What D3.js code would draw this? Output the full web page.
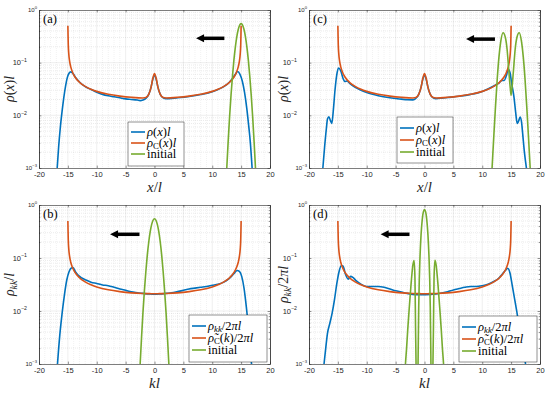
<!DOCTYPE html>
<html>
<head>
<meta charset="utf-8">
<script src="https://cdn.jsdelivr.net/npm/d3@7"></script>
<style>
body { margin: 0; background: #fff; }
svg { display: block; }
.serif, .serif tspan { font-family: "Liberation Serif", "DejaVu Serif", "Times New Roman", serif; }
</style>
</head>
<body>
<svg id="fig" width="550" height="395"></svg>
<script>
// axis ticks
const xTicks = [-20, -15, -10, -5, 0, 5, 10, 15, 20];
const xTickLabels = ['-20', '-15', '-10', '-5', '0', '5', '10', '15', '20'];
const yTicks = [1e-3, 1e-2, 1e-1, 1];
const yTickExp = ['-3', '-2', '-1', '0'];

// rho_C (orange), with the central peak for x-space and flat for k-space
const rhoCx = [-15, -14.97, -14.93, -14.85, -14.7, -14.5, -14.2, -13.8, -13, -12, -11, -10, -8, -6, -4, -2,
  -1.5, -1, -0.6, -0.3, 0, 0.3, 0.6, 1, 1.5,
  2, 4, 6, 8, 10, 11, 12, 13, 13.8, 14.2, 14.5, 14.7, 14.85, 14.93, 14.97, 15];
const rhoCpeak = [0.5, 0.335, 0.22, 0.15, 0.107, 0.083, 0.066, 0.054, 0.0425, 0.0354, 0.0312, 0.0285, 0.0251, 0.0232, 0.022, 0.0214,
  0.0218, 0.025, 0.034, 0.05, 0.062, 0.05, 0.034, 0.025, 0.0218,
  0.0214, 0.022, 0.0232, 0.0251, 0.0285, 0.0312, 0.0354, 0.0425, 0.054, 0.066, 0.083, 0.107, 0.15, 0.22, 0.335, 0.5];
const rhoCflat = [0.5, 0.335, 0.22, 0.15, 0.107, 0.083, 0.066, 0.054, 0.0425, 0.0354, 0.0312, 0.0285, 0.0251, 0.0232, 0.022, 0.0214,
  0.0213, 0.0213, 0.0212, 0.0212, 0.0212, 0.0212, 0.0212, 0.0213, 0.0213,
  0.0214, 0.022, 0.0232, 0.0251, 0.0285, 0.0312, 0.0354, 0.0425, 0.054, 0.066, 0.083, 0.107, 0.15, 0.22, 0.335, 0.5];

// panel (a)
const blueAx = [-16.85, -16.6, -16.3, -16, -15.7, -15.4, -15.1, -14.8, -14.5,
  -14.1, -13.6, -13, -12, -11, -10, -9, -8, -7, -6, -5, -4, -3, -2.5, -2, -1.5, -1, -0.6, -0.3,
  0,
  0.3, 0.6, 1, 1.5, 2, 3, 4, 6, 8, 10, 11, 12, 13, 13.6, 14, 14.4, 14.8, 15.2, 15.6, 16, 16.3, 16.6, 16.9];
const blueAy = [0.001, 0.0025, 0.006, 0.012, 0.022, 0.036, 0.052, 0.063, 0.067,
  0.062, 0.051, 0.043, 0.035, 0.031, 0.0275, 0.025, 0.0235, 0.0225, 0.0215, 0.0205, 0.02, 0.0195, 0.019, 0.0195, 0.021, 0.025, 0.034, 0.048,
  0.058,
  0.048, 0.034, 0.025, 0.0215, 0.0208, 0.021, 0.0215, 0.0228, 0.0248, 0.028, 0.031, 0.035, 0.043, 0.052, 0.06, 0.068, 0.06, 0.045, 0.027, 0.013, 0.0065, 0.003, 0.001];
const greenAx = [12.25, 12.5, 12.75, 13, 13.25, 13.5, 13.75, 14, 14.25, 14.5, 14.75, 15,
  15.25, 15.5, 15.75, 16, 16.25, 16.5, 16.75, 17, 17.25, 17.5, 17.75];
const greenAy = [0.00025, 0.00093, 0.0031, 0.0093, 0.024, 0.055, 0.112, 0.198, 0.31, 0.426, 0.516, 0.55,
  0.516, 0.426, 0.31, 0.198, 0.112, 0.055, 0.024, 0.0093, 0.0031, 0.00093, 0.00025];

// panel (c)
const blueCx = [-17.6, -17.3, -17, -16.8, -16.55, -16.3, -16.05, -15.8, -15.5, -15.2,
  -14.9, -14.5, -14.1, -13.8, -13.4, -13, -12, -11, -10, -8,
  -6, -4, -3, -2, -1.5, -1, -0.6, -0.3, 0, 0.3,
  0.6, 1, 1.5, 2, 3, 4, 6, 8, 10, 12,
  13, 13.4, 13.8, 14.2, 14.5, 14.8, 15.1, 15.5, 15.8, 16.05,
  16.3, 16.55, 16.8, 17, 17.3, 17.65];
const blueCy = [0.001, 0.0025, 0.0055, 0.0085, 0.0094, 0.008, 0.007, 0.012, 0.03, 0.058,
  0.079, 0.07, 0.05, 0.044, 0.045, 0.041, 0.034, 0.03, 0.027, 0.0235,
  0.0215, 0.0203, 0.0198, 0.0197, 0.021, 0.025, 0.034, 0.048, 0.058, 0.048,
  0.034, 0.025, 0.0215, 0.0208, 0.0212, 0.0218, 0.023, 0.025, 0.0285, 0.036,
  0.042, 0.046, 0.046, 0.058, 0.075, 0.065, 0.04, 0.022, 0.011, 0.007,
  0.0078, 0.0093, 0.0075, 0.0045, 0.002, 0.001];
const greenCx = [11.5, 11.7, 12, 12.3, 12.6, 12.9, 13.2, 13.6, 14, 14.3,
  14.6, 14.85, 15, 15.15, 15.4, 15.7, 16, 16.4, 16.8, 17.1,
  17.4, 17.7, 18, 18.3, 18.5];
const greenCy = [0.0004, 0.001, 0.004, 0.015, 0.05, 0.13, 0.25, 0.37, 0.3, 0.18,
  0.07, 0.033, 0.024, 0.033, 0.07, 0.18, 0.3, 0.37, 0.25, 0.13,
  0.05, 0.015, 0.004, 0.001, 0.0004];

// panel (b)
const blueBx = [-16.8, -16.4, -16, -15.6, -15.2, -14.8, -14.4, -14.1, -13.7, -13.2,
  -12.6, -12, -11, -10, -9, -8, -7, -6, -5, -4,
  -3, -2, -1, 0, 1, 2, 3, 4, 5, 6,
  7, 8, 9, 10, 11, 12, 12.8, 13.4, 13.9, 14.3,
  14.7, 15.1, 15.5, 15.9, 16.3, 16.8];
const blueBy = [0.001, 0.0035, 0.009, 0.02, 0.038, 0.055, 0.065, 0.066, 0.055, 0.047,
  0.042, 0.039, 0.035, 0.033, 0.031, 0.030, 0.028, 0.026, 0.0245, 0.023,
  0.022, 0.0215, 0.021, 0.0207, 0.021, 0.0215, 0.022, 0.0232, 0.0245, 0.026,
  0.027, 0.028, 0.029, 0.0305, 0.032, 0.035, 0.04, 0.046, 0.053, 0.058,
  0.056, 0.045, 0.027, 0.012, 0.0045, 0.001];
const greenBx = [-2.75, -2.5, -2.25, -2, -1.75, -1.5, -1.25, -1, -0.75, -0.5, -0.25, 0,
  0.25, 0.5, 0.75, 1, 1.25, 1.5, 1.75, 2, 2.25, 2.5, 2.75];
const greenBy = [0.00025, 0.00093, 0.0031, 0.0093, 0.024, 0.055, 0.112, 0.198, 0.31, 0.426, 0.516, 0.55,
  0.516, 0.426, 0.31, 0.198, 0.112, 0.055, 0.024, 0.0093, 0.0031, 0.00093, 0.00025];

// panel (d)
const blueDx = [-17.4, -17.1, -16.8, -16.4, -16.0, -15.6, -15.2, -14.8, -14.4, -14.1,
  -13.7, -13.2, -12.8, -12.4, -11.8, -11, -10, -9, -8, -7,
  -6, -5, -4, -3, -2, -1, 0, 1, 2, 3,
  4, 5, 6, 7, 8, 9, 10, 11, 12, 12.8,
  13.5, 14, 14.4, 14.8, 15.2, 15.6, 16, 16.3, 16.6, 17,
  17.5];
const blueDy = [0.001, 0.002, 0.0038, 0.0058, 0.009, 0.016, 0.032, 0.055, 0.072, 0.07,
  0.05, 0.04, 0.045, 0.043, 0.037, 0.032, 0.029, 0.029, 0.029, 0.028,
  0.026, 0.024, 0.0228, 0.0215, 0.0205, 0.0202, 0.0203, 0.0205, 0.021, 0.0218,
  0.023, 0.025, 0.0265, 0.028, 0.029, 0.029, 0.030, 0.032, 0.036, 0.041,
  0.05, 0.058, 0.064, 0.052, 0.03, 0.017, 0.0095, 0.006, 0.0042, 0.0022,
  0.001];
const greenDx = [-3.5, -3.3, -3.1, -2.9, -2.6, -2.3, -2.0, -1.8, -1.65, -1.55,
  -1.45, -1.3, -1.2, -1.1, -1.0, -0.9, -0.8, -0.6, -0.4, -0.2,
  0,
  0.2, 0.4, 0.6, 0.8, 0.9, 1.0, 1.1, 1.2, 1.3, 1.45,
  1.55, 1.65, 1.8, 2.0, 2.3, 2.6, 2.9, 3.1, 3.3, 3.5];
const greenDy = [0.0004, 0.001, 0.002, 0.0045, 0.013, 0.035, 0.075, 0.09, 0.04, 0.005,
  0.0008, 0.0002, 0.0002, 0.0015, 0.012, 0.04, 0.09, 0.27, 0.52, 0.74,
  0.82,
  0.74, 0.52, 0.27, 0.09, 0.04, 0.012, 0.0015, 0.0002, 0.0002, 0.0008,
  0.005, 0.04, 0.09, 0.075, 0.035, 0.013, 0.0045, 0.002, 0.001, 0.0004];

const colors = { blue: '#0072BD', orange: '#D95319', green: '#77AC30' };
const axisColor = '#262626';
const sans = 'Liberation Sans';

// legend / label texts: [text, style]
const legX = [
  [['ρ', 'i'], ['(', 'r'], ['x', 'i'], [')', 'r'], ['l', 'i']],
  [['ρ', 'i'], ['C', 'subr'], ['(', 'r'], ['x', 'i'], [')', 'r'], ['l', 'i']],
  [['initial', 'r']]
];
const legK = [
  [['ρ', 'i'], ['kk', 'subi'], ['/2', 'r'], ['π', 'i'], ['l', 'i']],
  [['ρ\u0303', 'i'], ['C', 'subr'], ['(', 'r'], ['k', 'i'], [')/2', 'r'], ['π', 'i'], ['l', 'i']],
  [['initial', 'r']]
];

const panels = [
  { tag: '(a)', left: 39, top: 10, h: 158,
    series: [[blueAx, blueAy, 'blue'], [rhoCx, rhoCpeak, 'orange'], [greenAx, greenAy, 'green']],
    ylab: [['ρ', 'i'], ['(', 'r'], ['x', 'i'], [')', 'r'], ['l', 'i']],
    xlab: [['x', 'i'], ['/', 'r'], ['l', 'i']],
    legend: legX, leg: { x: 89, y: 112, w: 56, h: 44, row: 11, fs: 12.5 },
    arrow: { from: 12.1, to: 7.2, y: 0.29 } },
  { tag: '(c)', left: 309, top: 10, h: 158,
    series: [[blueCx, blueCy, 'blue'], [rhoCx, rhoCpeak, 'orange'], [greenCx, greenCy, 'green']],
    ylab: [['ρ', 'i'], ['(', 'r'], ['x', 'i'], [')', 'r'], ['l', 'i']],
    xlab: [['x', 'i'], ['/', 'r'], ['l', 'i']],
    legend: legX, leg: { x: 88, y: 107, w: 56, h: 46, row: 12, fs: 12.5 },
    arrow: { from: 12.2, to: 7.2, y: 0.28 } },
  { tag: '(b)', left: 39, top: 205, h: 159,
    series: [[blueBx, blueBy, 'blue'], [rhoCx, rhoCflat, 'orange'], [greenBx, greenBy, 'green']],
    ylab: [['ρ', 'i'], ['kk', 'subi'], ['/', 'r'], ['l', 'i']],
    xlab: [['kl', 'i']],
    legend: legK, leg: { x: 150, y: 110, w: 78, h: 47, row: 12, fs: 12.5 },
    arrow: { from: -2.6, to: -7.7, y: 0.28 } },
  { tag: '(d)', left: 309, top: 205, h: 159,
    series: [[blueDx, blueDy, 'blue'], [rhoCx, rhoCflat, 'orange'], [greenDx, greenDy, 'green']],
    ylab: [['ρ', 'i'], ['kk', 'subi'], ['/2', 'r'], ['π', 'i'], ['l', 'i']],
    xlab: [['kl', 'i']],
    legend: legK, leg: { x: 150, y: 111, w: 78, h: 46, row: 12, fs: 12.5 },
    arrow: { from: -2.6, to: -7.6, y: 0.28 } }
];

const fig = d3.select('#fig');
const defs = fig.append('defs');
const panelW = 231;

// one text element, pieces as tspans (italic / roman / subscript)
function richText(t, segs, fs) {
  let shift = 0;
  t.classed('serif', true).attr('font-size', fs);
  segs.forEach(([s, st]) => {
    const sub = st.startsWith('sub');
    const target = sub ? fs * 0.2 : 0;
    t.append('tspan').text(s)
      .attr('dy', target - shift)
      .attr('font-style', st.endsWith('i') ? 'italic' : 'normal')
      .attr('font-size', sub ? fs * 0.7 : fs);
    shift = target;
  });
}

panels.forEach((p, i) => {
  const x = d3.scaleLinear().domain([-20, 20]).range([0, panelW]);
  const y = d3.scaleLog().domain([1e-3, 1]).range([p.h, 0]);
  const g = fig.append('g').attr('transform', `translate(${p.left},${p.top})`);

  // grid
  const minorX = d3.range(-19, 20).filter(v => v % 5 !== 0);
  const minorY = y.ticks().filter(v => !yTicks.includes(v));
  const grid = g.append('g').attr('stroke', axisColor).attr('stroke-width', 0.5);
  grid.selectAll('.mx').data(minorX).join('line')
    .attr('x1', d => x(d)).attr('x2', d => x(d)).attr('y1', 0).attr('y2', p.h)
    .attr('stroke-opacity', 0.12).attr('stroke-dasharray', '1,1');
  grid.selectAll('.my').data(minorY).join('line')
    .attr('y1', d => y(d)).attr('y2', d => y(d)).attr('x1', 0).attr('x2', panelW)
    .attr('stroke-opacity', 0.18).attr('stroke-dasharray', '1,1');
  grid.selectAll('.gx').data(xTicks.slice(1, -1)).join('line')
    .attr('x1', d => x(d)).attr('x2', d => x(d)).attr('y1', 0).attr('y2', p.h)
    .attr('stroke-opacity', 0.15);
  grid.selectAll('.gy').data(yTicks.slice(1, -1)).join('line')
    .attr('y1', d => y(d)).attr('y2', d => y(d)).attr('x1', 0).attr('x2', panelW)
    .attr('stroke-opacity', 0.15);

  // curves
  defs.append('clipPath').attr('id', 'clip' + i)
    .append('rect').attr('width', panelW).attr('height', p.h);
  const line = d3.line().x(d => x(d[0])).y(d => y(d[1])).curve(d3.curveMonotoneX);
  const plot = g.append('g').attr('clip-path', `url(#clip${i})`);
  p.series.forEach(([xs, ys, c]) => {
    plot.append('path').datum(d3.zip(xs, ys))
      .attr('d', line).attr('fill', 'none')
      .attr('stroke', colors[c]).attr('stroke-width', 1.6)
      .attr('stroke-linejoin', 'round');
  });

  // axes (MATLAB box style, ticks inside)
  const styleAxis = sel => {
    sel.select('.domain').attr('stroke', axisColor).attr('stroke-width', 0.6);
    sel.selectAll('.tick line').attr('stroke', axisColor).attr('stroke-width', 0.5);
  };
  g.append('g').attr('transform', `translate(0,${p.h})`)
    .call(d3.axisBottom(x).tickValues(xTicks).tickSizeInner(-2.4).tickSizeOuter(0)
      .tickPadding(4).tickFormat((d, k) => xTickLabels[k]))
    .call(styleAxis)
    .call(s => s.selectAll('text').attr('fill', axisColor)
      .attr('font-family', sans).attr('font-size', 7.5));
  g.append('g').call(d3.axisTop(x).tickValues(xTicks).tickSizeInner(-2.4).tickSizeOuter(0).tickFormat(''))
    .call(styleAxis);
  g.append('g').call(d3.axisLeft(y).tickValues(yTicks).tickSizeInner(-2.4).tickSizeOuter(0).tickFormat(''))
    .call(styleAxis);
  g.append('g').call(d3.axisLeft(y).tickValues(minorY).tickSizeInner(-1.3).tickSizeOuter(0).tickFormat(''))
    .call(styleAxis);
  g.append('g').attr('transform', `translate(${panelW},0)`)
    .call(d3.axisRight(y).tickValues(yTicks).tickSizeInner(-2.4).tickSizeOuter(0).tickFormat(''))
    .call(styleAxis);
  g.append('g').attr('transform', `translate(${panelW},0)`)
    .call(d3.axisRight(y).tickValues(minorY).tickSizeInner(-1.3).tickSizeOuter(0).tickFormat(''))
    .call(styleAxis);

  // y tick labels 10^n
  yTicks.forEach((v, k) => {
    const edge = k === 0 || k === yTicks.length - 1;
    const fs = edge ? 6 : 7.5;
    const t = g.append('text')
      .attr('x', edge ? -2 : -12).attr('y', y(v) + fs * 0.35)
      .attr('text-anchor', 'end').attr('fill', axisColor)
      .attr('font-family', sans).attr('font-size', fs);
    t.append('tspan').text('10');
    t.append('tspan').text(yTickExp[k].replace('-', '\u2212'))
      .attr('dy', -fs * 0.45).attr('font-size', fs * 0.7);
  });

  // axis labels
  const xl = g.append('text').attr('x', panelW / 2).attr('y', p.h + 24)
    .attr('text-anchor', 'middle').attr('fill', axisColor);
  richText(xl, p.xlab, 15);
  const yl = g.append('text')
    .attr('transform', `translate(${i % 2 === 0 ? -25 : -21},${p.h / 2}) rotate(-90)`)
    .attr('text-anchor', 'middle').attr('fill', axisColor);
  richText(yl, p.ylab, 14);

  // panel tag
  g.append('text').attr('x', 4).attr('y', 13).text(p.tag)
    .classed('serif', true).attr('font-size', 12.5).attr('fill', '#000');

  // arrow
  const ax1 = x(p.arrow.from), ax2 = x(p.arrow.to), ay = y(p.arrow.y);
  g.append('line').attr('x1', ax1).attr('x2', ax2 + 6).attr('y1', ay).attr('y2', ay)
    .attr('stroke', '#000').attr('stroke-width', 3.5);
  g.append('path').attr('d', `M${ax2},${ay}L${ax2 + 8},${ay - 4}L${ax2 + 8},${ay + 4}Z`).attr('fill', '#000');

  // legend
  const L = p.leg;
  const lg = g.append('g').attr('transform', `translate(${L.x},${L.y})`);
  lg.append('rect').attr('width', L.w).attr('height', L.h)
    .attr('fill', '#fff').attr('stroke', axisColor).attr('stroke-width', 0.5);
  p.legend.forEach((segs, k) => {
    const cy = L.row * (k + 1) - 1;
    lg.append('line').attr('x1', 3).attr('x2', 17).attr('y1', cy).attr('y2', cy)
      .attr('stroke', colors[['blue', 'orange', 'green'][k]]).attr('stroke-width', 1.6);
    const t = lg.append('text').attr('x', 19).attr('y', cy + L.fs * 0.3).attr('fill', '#000');
    richText(t, segs, L.fs);
  });
});
</script>
</body>
</html>
